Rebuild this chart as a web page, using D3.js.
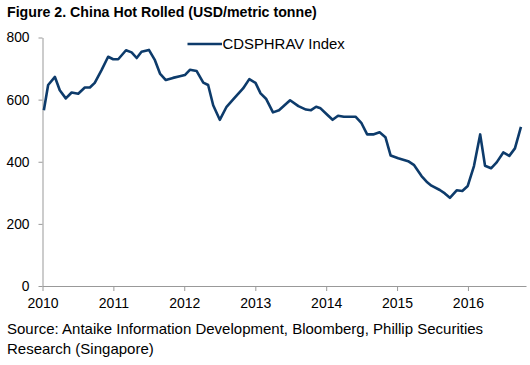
<!DOCTYPE html>
<html>
<head>
<meta charset="utf-8">
<script src="https://cdn.jsdelivr.net/npm/d3@7"></script>
<style>
  body { margin: 0; background: #fff; }
  svg { display: block; font-family: Arial, "Liberation Sans", sans-serif; }
</style>
</head>
<body>
<svg id="chart" width="530" height="365"></svg>
<script>
const title = "Figure 2. China Hot Rolled (USD/metric tonne)";
const seriesName = "CDSPHRAV Index";
const sourceLines = ["Source: Antaike Information Development, Bloomberg, Phillip Securities", "Research (Singapore)"];

const dates = ["2010-01-08","2010-01-30","2010-03-06","2010-03-31","2010-05-01","2010-05-31","2010-07-04","2010-08-07","2010-09-02","2010-09-27","2010-11-01","2010-12-05","2010-12-31","2011-01-26","2011-03-07","2011-04-05","2011-05-01","2011-05-26","2011-07-03","2011-08-03","2011-08-29","2011-09-28","2011-11-04","2011-12-09","2012-01-04","2012-01-30","2012-03-05","2012-04-08","2012-05-03","2012-05-29","2012-07-02","2012-08-06","2012-09-09","2012-10-30","2012-12-01","2013-01-02","2013-01-28","2013-02-25","2013-04-02","2013-05-03","2013-06-29","2013-08-11","2013-09-19","2013-10-15","2013-11-10","2013-12-03","2014-01-05","2014-02-03","2014-03-03","2014-04-02","2014-06-01","2014-07-02","2014-07-31","2014-08-31","2014-10-03","2014-11-02","2014-11-29","2015-01-07","2015-02-27","2015-03-30","2015-05-07","2015-06-02","2015-06-27","2015-08-09","2015-09-04","2015-09-30","2015-11-04","2015-12-03","2015-12-31","2016-02-01","2016-03-04","2016-03-29","2016-04-29","2016-05-28","2016-07-01","2016-08-01","2016-08-30","2016-09-30"];
const values = [566,647,673,630,604,623,619,639,639,654,695,738,730,730,759,752,734,754,760,727,684,663,670,675,679,696,692,655,647,582,535,577,601,636,666,654,620,603,559,566,598,579,568,566,577,572,552,535,548,545,545,524,488,488,495,479,420,411,402,389,354,336,323,309,298,284,308,306,322,386,488,387,379,398,430,419,443,512];
const yTicks = [0,200,400,600,800];
const xTickYears = [2010,2011,2012,2013,2014,2015,2016];

const parse = d3.timeParse("%Y-%m-%d");
const data = dates.map((d,i) => ({date: parse(d), value: values[i]}));

const svg = d3.select("#chart");
const mLeft = 42.5, mRight = 526, mTop = 37.5, mBottom = 286;

const x = d3.scaleTime()
  .domain([new Date(2010,0,1), new Date(2016,9,26)])
  .range([mLeft, mRight]);
const y = d3.scaleLinear().domain([0,800]).range([mBottom, mTop]);

// title
svg.append("text").attr("x", 7).attr("y", 17)
  .attr("font-size", 14.2).attr("font-weight", "bold").attr("fill", "#000")
  .text(title);

// y axis
const yAxis = svg.append("g").attr("transform", `translate(${mLeft},0)`)
  .call(d3.axisLeft(y).tickValues(yTicks).tickSize(4).tickPadding(9).tickSizeOuter(0));
yAxis.select(".domain").attr("stroke", "#999");
yAxis.selectAll(".tick line").attr("stroke", "#999");
yAxis.selectAll(".tick text").attr("font-size", 13.8).attr("fill", "#000")
  .attr("font-family", "Arial, 'Liberation Sans', sans-serif");

// x axis
const xAxis = svg.append("g").attr("transform", `translate(0,${mBottom})`)
  .call(d3.axisBottom(x).tickValues(xTickYears.map(yv => new Date(yv,0,1)))
    .tickFormat(d3.timeFormat("%Y")).tickSize(5).tickPadding(7).tickSizeOuter(0));
xAxis.select(".domain").attr("stroke", "#999");
xAxis.selectAll(".tick line").attr("stroke", "#999");
xAxis.selectAll(".tick text").attr("font-size", 14).attr("fill", "#000")
  .attr("font-family", "Arial, 'Liberation Sans', sans-serif");

// line
const line = d3.line().x(d => x(d.date)).y(d => y(d.value));
svg.append("path").datum(data)
  .attr("d", line).attr("fill", "none")
  .attr("stroke", "#0d3b6b").attr("stroke-width", 2.6)
  .attr("stroke-linejoin", "round");

// legend
svg.append("line").attr("x1", 187.5).attr("x2", 222).attr("y1", 44).attr("y2", 44)
  .attr("stroke", "#0d3b6b").attr("stroke-width", 2.6);
svg.append("text").attr("x", 222.5).attr("y", 49)
  .attr("font-size", 14.9).attr("fill", "#000").text(seriesName);

// source
sourceLines.forEach((t,i) => {
  svg.append("text").attr("x", 7).attr("y", 334 + i*20)
    .attr("font-size", 15).attr("fill", "#000").text(t);
});
</script>
</body>
</html>
